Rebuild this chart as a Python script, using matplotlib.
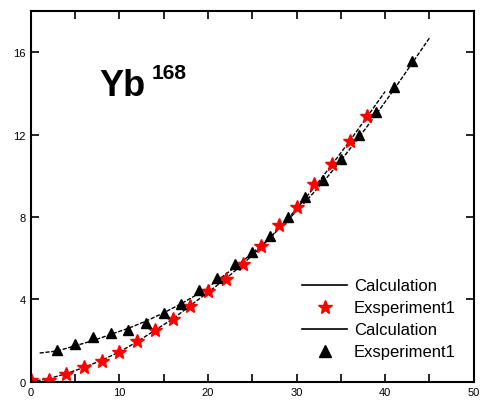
import matplotlib.pyplot as plt
from matplotlib.lines import Line2D
from matplotlib.ticker import MultipleLocator

# spin values and energies
spin_even = [0, 2, 4, 6, 8, 10, 12, 14, 16, 18, 20, 22, 24, 26, 28, 30, 32, 34, 36, 38]
exp_even = [0.1, 0.1, 0.4, 0.7, 1.0, 1.45, 2.0, 2.5, 3.05, 3.7, 4.4, 5.0, 5.7, 6.6,
            7.6, 8.5, 9.6, 10.6, 11.7, 12.9]
calc_even_x = [0, 2, 4, 6, 8, 10, 12, 14, 16, 18, 20, 22, 24, 26, 28, 30, 32, 34, 36, 38, 40]
calc_even_y = [0.0, 0.15, 0.4, 0.7, 1.05, 1.45, 1.95, 2.5, 3.05, 3.7, 4.35, 5.0, 5.75,
               6.55, 7.45, 8.4, 9.45, 10.55, 11.7, 12.9, 14.1]

spin_odd = [3, 5, 7, 9, 11, 13, 15, 17, 19, 21, 23, 25, 27, 29, 31, 33, 35, 37, 39, 41, 43]
exp_odd = [1.55, 1.85, 2.2, 2.35, 2.5, 2.85, 3.35, 3.8, 4.45, 5.05, 5.7, 6.3, 7.1, 8.0,
           9.0, 9.8, 10.8, 12.0, 13.1, 14.3, 15.6]
calc_odd_x = [1, 3, 5, 7, 9, 11, 13, 15, 17, 19, 21, 23, 25, 27, 29, 31, 33, 35, 37,
              39, 41, 43, 45]
calc_odd_y = [1.4, 1.5, 1.75, 2.0, 2.3, 2.6, 2.95, 3.35, 3.8, 4.3, 4.9, 5.55, 6.25, 7.0,
              7.85, 8.75, 9.7, 10.75, 11.85, 13.0, 14.2, 15.45, 16.7]

x_ticks = [0, 10, 20, 30, 40, 50]
y_ticks = [0, 4, 8, 12, 16]

plt.rcParams['font.family'] = ['Liberation Sans', 'DejaVu Sans']

fig = plt.figure(figsize=(4.81, 4.06), dpi=100)
ax = fig.add_axes([0.064, 0.057, 0.921, 0.913])

dash = (0, (3, 1.2))
ax.plot(calc_even_x, calc_even_y, color='black', lw=1.0, ls=dash)
ax.plot(calc_odd_x, calc_odd_y, color='black', lw=1.0, ls=dash)
ax.plot(spin_even, exp_even, ls='none', marker='*', ms=10, color='red', mec='red')
ax.plot(spin_odd, exp_odd, ls='none', marker='^', ms=7, color='black')

ax.set_xlim(0, 50)
ax.set_ylim(0, 18)
ax.set_xticks(x_ticks)
ax.set_yticks(y_ticks)
ax.xaxis.set_minor_locator(MultipleLocator(5))
ax.tick_params(which='both', direction='in', top=True, right=True,
               labelsize=8, width=1.2)
ax.tick_params(which='major', length=6)
ax.tick_params(which='minor', length=6)
for s in ax.spines.values():
    s.set_linewidth(1.5)

# nucleus label
ax.text(0.155, 0.80, 'Yb', transform=ax.transAxes,
        fontsize=26, fontweight='bold', va='center', ha='left')
ax.text(0.272, 0.835, '168', transform=ax.transAxes,
        fontsize=15, fontweight='semibold', va='center', ha='left')

handles = [
    Line2D([], [], color='black', lw=1.2),
    Line2D([], [], ls='none', marker='*', ms=10, color='red'),
    Line2D([], [], color='black', lw=1.2),
    Line2D([], [], ls='none', marker='^', ms=8, color='black'),
]
labels = ['Calculation', 'Exsperiment1', 'Calculation', 'Exsperiment1']
ax.legend(handles, labels, loc='lower right', frameon=False, fontsize=12,
          handlelength=2.7, handletextpad=0.4, labelspacing=0.42,
          bbox_to_anchor=(0.993, 0.02))

fig.savefig('out.png', dpi=100)
